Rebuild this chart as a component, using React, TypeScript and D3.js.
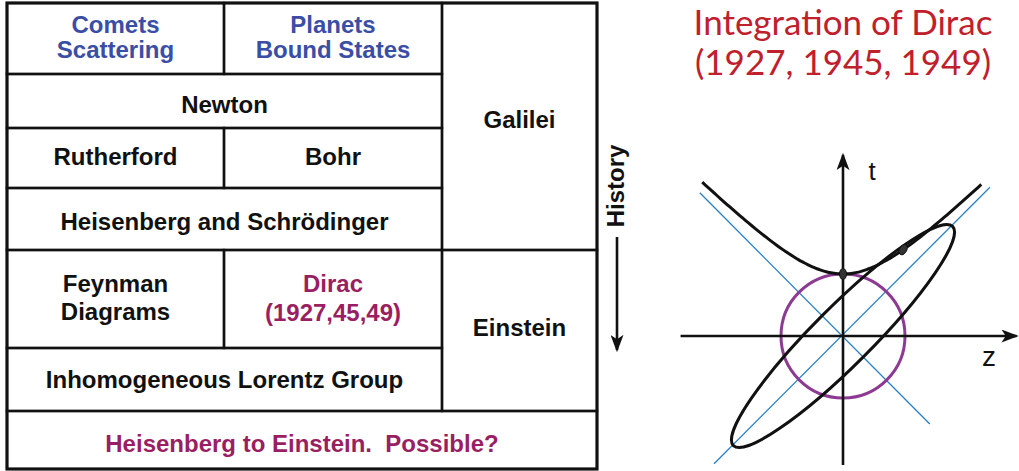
import React from 'react';
import * as d3 from 'd3';

// table content (column / row spans on the grid below)
const cellLabels = [
  ['Comets', 'Scattering'],
  ['Planets', 'Bound States'],
  ['Newton'],
  ['Rutherford'],
  ['Bohr'],
  ['Heisenberg and Schrödinger'],
  ['Feynman', 'Diagrams'],
  ['Dirac', '(1927,45,49)'],
  ['Inhomogeneous Lorentz Group'],
  ['Heisenberg to Einstein.  Possible?'],
  ['Galilei'],
  ['Einstein'],
];
const cellCols = [[0, 1], [1, 2], [0, 2], [0, 1], [1, 2], [0, 2], [0, 1], [1, 2], [0, 2], [0, 3], [2, 3], [2, 3]];
const cellRows = [[0, 1], [0, 1], [1, 2], [2, 3], [2, 3], [3, 4], [4, 5], [4, 5], [5, 6], [6, 7], [0, 4], [4, 6]];
const cellKinds = ['blue', 'blue', 'plain', 'plain', 'plain', 'plain', 'plain', 'purple', 'plain', 'purple', 'plain', 'plain'];

const titleLines = ['Integration of Dirac', '(1927, 1945, 1949)'];
const historyLabel = 'History';

// spacetime sketch, in units of the circle radius
const circleRadius = 1;
const hyperbolaZ = [-2.27, 2.25];
const lightConeA = [[-2.31, 2.31], [1.4, -1.42]];
const lightConeB = [[-2.08, -2.06], [2.37, 2.4]];
const ellipseAxes = [2.5, 0.47];
const dotsZ = [0, 0.97];
const zAxisRange = [-2.62, 2.8];
const tAxisRange = [-2.08, 2.92];

// layout
const colEdges = [7, 224, 442, 597];
const rowEdges = [3, 74, 128, 188, 250, 348, 411, 469];
const nudge = [-1.5, -1.5, 3.5, -1.5, -1.5, 2.5, -1.5, -1.5, 0, 3.5, -7, -3];
const lineGap = [25, 25, 0, 0, 0, 0, 28, 29, 0, 0, 0, 0];

const colors: Record<string, string> = { blue: '#3a4ea6', plain: '#111', purple: '#9a1f62' };

export default function App() {
  const origin = [843, 336];
  const unit = 62;
  const x = d3.scaleLinear().domain([0, 1]).range([origin[0], origin[0] + unit]);
  const y = d3.scaleLinear().domain([0, 1]).range([origin[1], origin[1] - unit]);

  const hyp = d3
    .line<number>()
    .x(z => x(z))
    .y(z => y(Math.sqrt(1 + z * z)))
    .curve(d3.curveBasis)(d3.range(hyperbolaZ[0], hyperbolaZ[1] + 0.001, 0.05));

  const seg = (p: number[][]) => d3.line<number[]>().x(d => x(d[0])).y(d => y(d[1]))(p) as string;
  const font = "'Liberation Sans', Arial, sans-serif";

  return (
    <svg width={1019} height={471} style={{ position: 'absolute', left: 0, top: 0, background: '#fff' }}>
      <defs>
        <marker id="arr" viewBox="0 0 16 12" refX="14" refY="6" markerWidth="18" markerHeight="13" orient="auto" markerUnits="userSpaceOnUse">
          <path d="M0,0 L16,6 L0,12 L4,6 z" fill="#111" />
        </marker>
      </defs>

      {/* table */}
      <g fill="none" stroke="#111">
        <rect x={colEdges[0]} y={rowEdges[0]} width={colEdges[3] - colEdges[0]} height={rowEdges[7] - rowEdges[0]} strokeWidth={3} />
        {cellLabels.map((_, i) => (
          <rect
            key={i}
            x={colEdges[cellCols[i][0]]}
            y={rowEdges[cellRows[i][0]]}
            width={colEdges[cellCols[i][1]] - colEdges[cellCols[i][0]]}
            height={rowEdges[cellRows[i][1]] - rowEdges[cellRows[i][0]]}
            strokeWidth={2.4}
          />
        ))}
      </g>
      <g fontFamily={font} fontWeight="bold" fontSize={24} textAnchor="middle" style={{ whiteSpace: 'pre' }}>
        {cellLabels.map((lines, i) => {
          const cx = (colEdges[cellCols[i][0]] + colEdges[cellCols[i][1]]) / 2;
          const cy = (rowEdges[cellRows[i][0]] + rowEdges[cellRows[i][1]]) / 2 + nudge[i];
          return lines.map((t, j) => (
            <text
              key={i + '-' + j}
              x={cx}
              y={cy + (j - (lines.length - 1) / 2) * lineGap[i] + 8.5}
              fill={colors[cellKinds[i]]}
              xmlSpace="preserve"
            >
              {t}
            </text>
          ));
        })}
      </g>

      {/* history arrow */}
      <text transform="translate(624,186) rotate(-90)" fontFamily={font} fontWeight="bold" fontSize={24} textAnchor="middle" fill="#111">
        {historyLabel}
      </text>
      <line x1={617} y1={237} x2={617} y2={350} stroke="#111" strokeWidth={2.6} markerEnd="url(#arr)" />

      {/* title */}
      <g fontFamily="Lato, 'Open Sans', sans-serif" fontSize={35} fill="#c0202b" textAnchor="middle">
        {titleLines.map((t, i) => (
          <text key={i} x={843} y={35 + i * 40}>
            {t}
          </text>
        ))}
      </g>

      {/* spacetime diagram */}
      <path d={seg(lightConeA)} stroke="#2a80c4" strokeWidth={1.3} fill="none" />
      <path d={seg(lightConeB)} stroke="#2a80c4" strokeWidth={1.3} fill="none" />
      <circle cx={x(0)} cy={y(0)} r={x(circleRadius) - x(0)} fill="none" stroke="#8d3a92" strokeWidth={3} />
      <line x1={x(zAxisRange[0])} y1={y(0)} x2={x(zAxisRange[1])} y2={y(0)} stroke="#111" strokeWidth={2.6} markerEnd="url(#arr)" />
      <line x1={x(0)} y1={y(tAxisRange[0])} x2={x(0)} y2={y(tAxisRange[1])} stroke="#111" strokeWidth={2.6} markerEnd="url(#arr)" />
      <ellipse
        cx={x(0)}
        cy={y(0)}
        rx={x(ellipseAxes[0]) - x(0)}
        ry={x(ellipseAxes[1]) - x(0)}
        transform={`rotate(-45 ${x(0)} ${y(0)})`}
        fill="none"
        stroke="#111"
        strokeWidth={3}
      />
      <path d={hyp as string} fill="none" stroke="#111" strokeWidth={3} />
      {dotsZ.map((z, i) => (
        <ellipse
          key={i}
          cx={x(z)}
          cy={y(Math.sqrt(1 + z * z))}
          rx={3.5}
          ry={5.5}
          transform={`rotate(${i * 30} ${x(z)} ${y(Math.sqrt(1 + z * z))})`}
          fill="#333"
          stroke="#111"
          strokeWidth={1}
        />
      ))}
      <text x={872} y={180} fontFamily={font} fontSize={26} fill="#111" textAnchor="middle">
        t
      </text>
      <text x={989} y={366} fontFamily={font} fontSize={28} fill="#111" textAnchor="middle">
        z
      </text>
    </svg>
  );
}
